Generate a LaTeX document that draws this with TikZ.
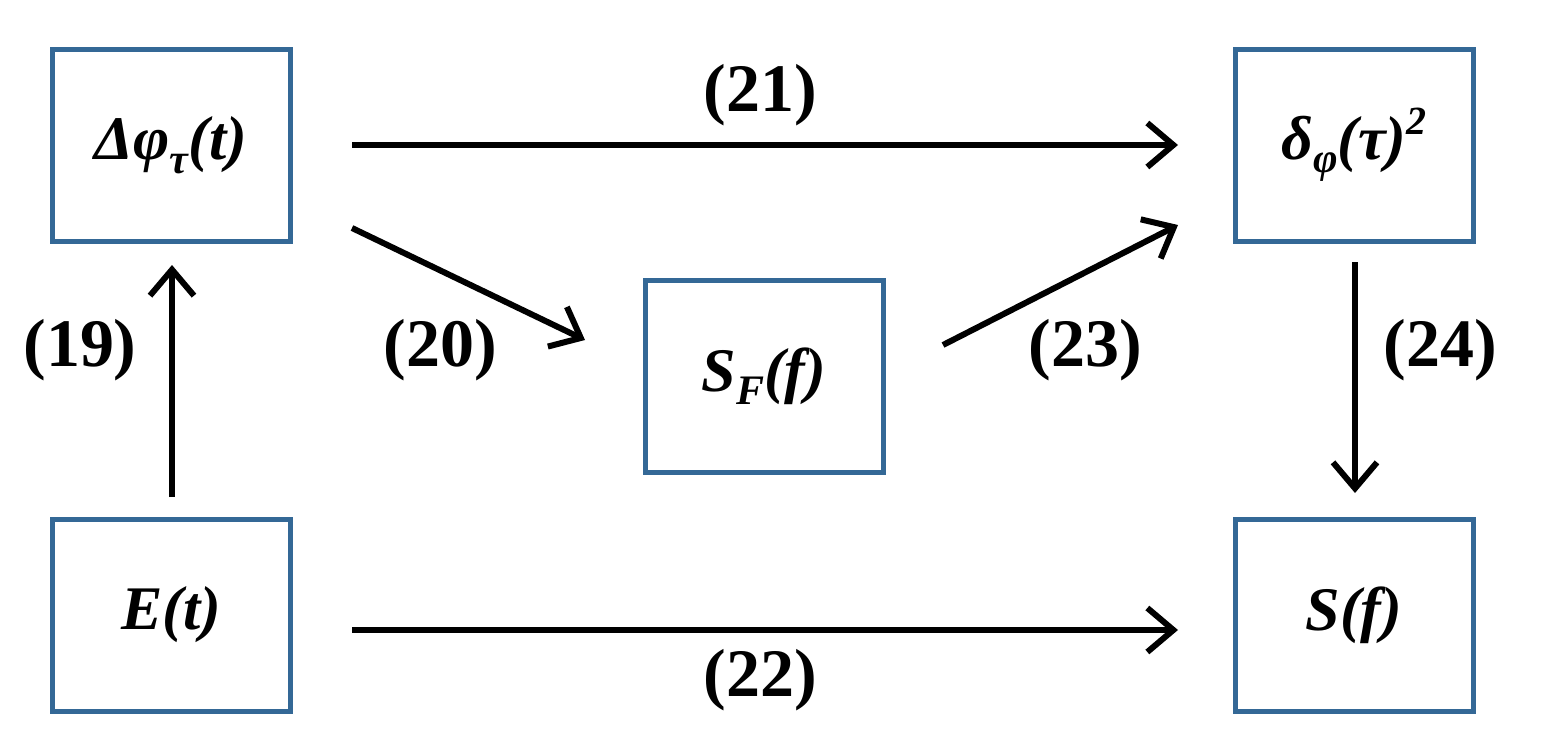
\documentclass[tikz,border=0pt]{standalone}
\usepackage{fontspec}
\setmainfont{Liberation Serif}
\usetikzlibrary{arrows.meta}
\definecolor{boxblue}{RGB}{52,104,150}
\newcommand{\lowsub}[1]{\raisebox{-0.22em}{\fontsize{42}{42}\selectfont #1}}
\newcommand{\highsup}[1]{\raisebox{0.4em}{\fontsize{40}{40}\selectfont #1}}
\begin{document}
\begin{tikzpicture}[x=1pt,y=-1pt,
  box/.style={draw=boxblue,line width=5pt,minimum width=238pt,minimum height=192pt,inner sep=0pt,
    font=\fontsize{62}{62}\selectfont\bfseries\itshape},
  arr/.style={line width=6pt,-{Straight Barb[length=26pt,width=44pt,line width=6pt]}},
  lab/.style={font=\fontsize{68}{68}\selectfont\bfseries}]
\useasboundingbox (0,0) rectangle (1543,750);
\node[box] (phi) at (171,145) {Δφ\lowsub{τ}(t)};
\node[box] (E) at (171,615) {E(t)};
\node[box] (SF) at (764,376) {S\lowsub{F}(f)};
\node[box] (del) at (1354,145) {δ\lowsub{φ}(τ)\highsup{2}};
\node[box] (S) at (1354,615) {S(f)};
\coordinate (a1) at (352,145); \coordinate (b1) at (1178,145);
\coordinate (a2) at (352,630); \coordinate (b2) at (1178,630);
\coordinate (a3) at (172,497); \coordinate (b3) at (172,265);
\coordinate (a4) at (1355,262); \coordinate (b4) at (1355,493);
\coordinate (a5) at (352,228); \coordinate (b5) at (585,340);
\coordinate (a6) at (943,345); \coordinate (b6) at (1178,225);
\draw[arr] (a1) -- (b1);
\draw[arr] (a2) -- (b2);
\draw[arr] (a3) -- (b3);
\draw[arr] (a4) -- (b4);
\draw[arr] (a5) -- (b5);
\draw[arr] (a6) -- (b6);
\node[lab] (l21) at (760,95) {(21)};
\node[lab] (l22) at (760,680) {(22)};
\node[lab] (l19) at (80,350) {(19)};
\node[lab] (l20) at (440,350) {(20)};
\node[lab] (l23) at (1085,350) {(23)};
\node[lab] (l24) at (1440,350) {(24)};
\end{tikzpicture}
\end{document}
